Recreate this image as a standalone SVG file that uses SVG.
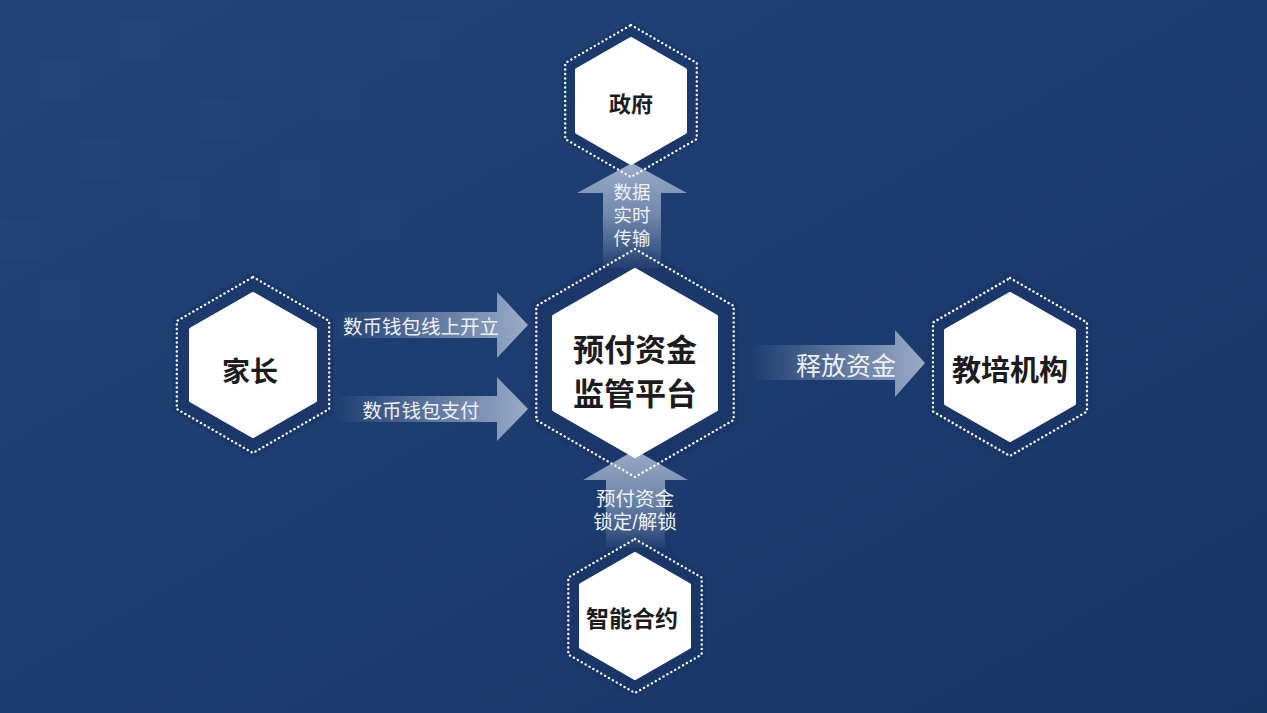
<svg xmlns="http://www.w3.org/2000/svg" width="1267" height="713" viewBox="0 0 1267 713">
<defs>
<linearGradient id="bg" x1="0" y1="0" x2="1" y2="1">
<stop offset="0" stop-color="#224478"/>
<stop offset="0.5" stop-color="#1d3c70"/>
<stop offset="1" stop-color="#183566"/>
</linearGradient>
<linearGradient id="gL1" gradientUnits="userSpaceOnUse" x1="335" y1="0" x2="528" y2="0">
<stop offset="0" stop-color="#a8b8d2" stop-opacity="0"/>
<stop offset="0.6" stop-color="#a8b8d2" stop-opacity="0.55"/>
<stop offset="1" stop-color="#a8b8d2" stop-opacity="0.9"/>
</linearGradient>
<linearGradient id="gR" gradientUnits="userSpaceOnUse" x1="750" y1="0" x2="925" y2="0">
<stop offset="0" stop-color="#a8b8d2" stop-opacity="0"/>
<stop offset="0.6" stop-color="#a8b8d2" stop-opacity="0.55"/>
<stop offset="1" stop-color="#a8b8d2" stop-opacity="0.9"/>
</linearGradient>
<linearGradient id="gT" gradientUnits="userSpaceOnUse" x1="0" y1="163" x2="0" y2="268">
<stop offset="0" stop-color="#a8b8d2" stop-opacity="0.9"/>
<stop offset="0.5" stop-color="#a8b8d2" stop-opacity="0.6"/>
<stop offset="1" stop-color="#a8b8d2" stop-opacity="0.05"/>
</linearGradient>
<linearGradient id="gB" gradientUnits="userSpaceOnUse" x1="0" y1="450" x2="0" y2="548">
<stop offset="0" stop-color="#a8b8d2" stop-opacity="0.9"/>
<stop offset="0.5" stop-color="#a8b8d2" stop-opacity="0.6"/>
<stop offset="1" stop-color="#a8b8d2" stop-opacity="0.05"/>
</linearGradient>
</defs>
<style>
.band{fill:#1a3667;fill-opacity:0.6}
.dots{fill:none;stroke:#ffffff;stroke-width:2.4;stroke-dasharray:0.1 4.4;stroke-linecap:round;stroke-linejoin:round}
.core{fill:#ffffff;stroke:#ffffff;stroke-width:4;stroke-linejoin:round}
.title{font-family:"Noto Sans CJK SC","Noto Sans",sans-serif;font-weight:700;fill:#1c1c1c;text-anchor:middle;dominant-baseline:central}
.lbl{font-family:"Noto Sans CJK SC","Noto Sans",sans-serif;fill:#eef2f8;text-anchor:middle;dominant-baseline:central}
.lbs{font-family:"Liberation Sans","Noto Sans CJK SC",sans-serif;fill:#eef2f8;text-anchor:middle}
</style>
<rect width="1267" height="713" fill="url(#bg)"/>
<g fill="#ffffff" fill-opacity="0.015">
<rect x="40" y="60" width="40" height="40"/><rect x="120" y="20" width="40" height="40"/><rect x="80" y="140" width="40" height="40"/>
<rect x="200" y="100" width="40" height="40"/><rect x="160" y="180" width="40" height="40"/><rect x="240" y="40" width="40" height="40"/>
<rect x="0" y="220" width="40" height="40"/><rect x="320" y="80" width="40" height="40"/><rect x="280" y="160" width="40" height="40"/>
<rect x="400" y="20" width="40" height="40"/><rect x="40" y="280" width="40" height="40"/><rect x="360" y="200" width="40" height="40"/>
</g>
<g id="bands">
<polygon class="band" points="631,21 700.3,61 700.3,141 631,181 561.7,141 561.7,61"/>
<polygon class="band" points="253,272 333.5,318.5 333.5,411.5 253,458 172.5,411.5 172.5,318.5"/>
<polygon class="band" points="635,243 738.9,303 738.9,423 635,483 531.1,423 531.1,303"/>
<polygon class="band" points="1010,273 1091.4,320 1091.4,414 1010,461 928.6,414 928.6,320"/>
<polygon class="band" points="635,534 706,575 706,657 635,698 564,657 564,575"/>
</g>
<g id="connectors">
<path d="M335,312 L497,312 L497,292 L528,325 L497,358 L497,338 L335,338 Z" fill="url(#gL1)"/>
<path d="M335,396 L497,396 L497,377 L528,409 L497,441 L497,422 L335,422 Z" fill="url(#gL1)"/>
<path d="M750,345 L895,345 L895,330 L925,363 L895,397 L895,380 L750,380 Z" fill="url(#gR)"/>
<path d="M603,268 L603,193 L577,193 L632,163 L687,193 L661,193 L661,268 Z" fill="url(#gT)"/>
<path d="M606,548 L606,480 L583,480 L635,450 L688,480 L665,480 L665,548 Z" fill="url(#gB)"/>
<text class="lbl" x="421" y="325" font-size="19.5">数币钱包线上开立</text>
<text class="lbl" x="421" y="409" font-size="19.5">数币钱包支付</text>
<text class="lbl" x="846" y="364" font-size="25">释放资金</text>
<text class="lbs" x="632" y="199" font-size="18.5"><tspan x="632" y="199">数据</tspan><tspan x="632" y="222">实时</tspan><tspan x="632" y="245">传输</tspan></text>
<text class="lbs" x="635" y="506" font-size="19.5"><tspan x="635" y="506">预付资金</tspan><tspan x="635" y="529">锁定/解锁</tspan></text>
</g>
<g id="gov">
<polygon class="dots" points="631,25 696.8,63 696.8,139 631,177 565.2,139 565.2,63"/>
<polygon class="core" points="631,39 685,70 685,132 631,163 577,132 577,70"/>
<text class="title" x="631" y="102" font-size="22">政府</text>
</g>
<g id="parent">
<polygon class="dots" points="253,277 329.2,321 329.2,409 253,453 176.8,409 176.8,321"/>
<polygon class="core" points="253,294 315,329.5 315,400.5 253,436 191,400.5 191,329.5"/>
<text class="title" x="250" y="370" font-size="28">家长</text>
</g>
<g id="platform">
<polygon class="dots" points="635,249 733.7,306 733.7,420 635,477 536.3,420 536.3,306"/>
<polygon class="core" points="635,270 716,316.5 716,409.5 635,456 554,409.5 554,316.5"/>
<text class="title" x="635" y="347" font-size="31">预付资金</text>
<text class="title" x="635" y="391" font-size="31">监管平台</text>
</g>
<g id="institution">
<polygon class="dots" points="1010,278 1087,322.5 1087,411.5 1010,456 933,411.5 933,322.5"/>
<polygon class="core" points="1010,294 1074,330.5 1074,403.5 1010,440 946,403.5 946,330.5"/>
<text class="title" x="1010" y="368" font-size="29">教培机构</text>
</g>
<g id="contract">
<polygon class="dots" points="635,539 701.7,577.5 701.7,654.5 635,693 568.3,654.5 568.3,577.5"/>
<polygon class="core" points="635,554 689,585 689,647 635,678 581,647 581,585"/>
<text class="title" x="632" y="617" font-size="23">智能合约</text>
</g>
</svg>
